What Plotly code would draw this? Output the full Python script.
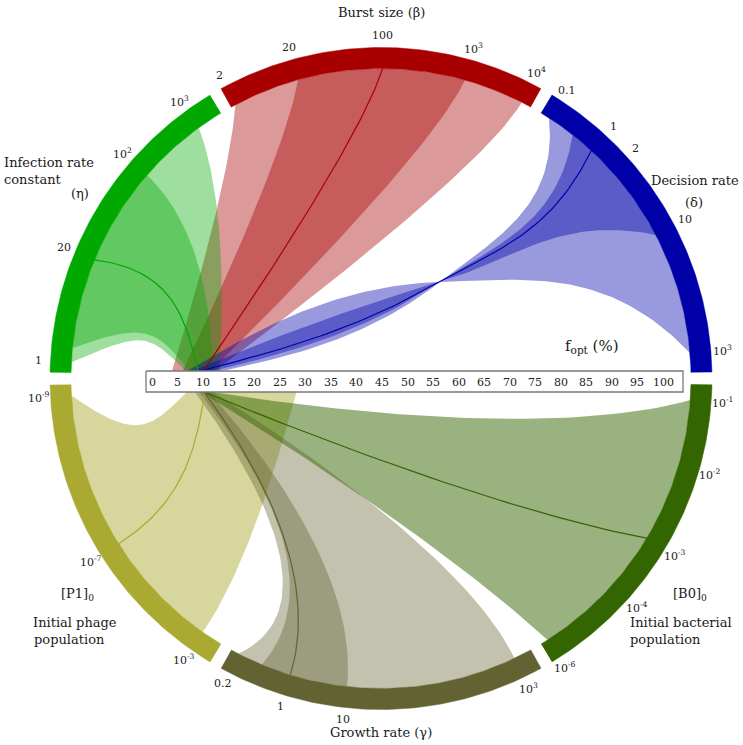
import numpy as np
import plotly.graph_objects as go

# -----------------------------
# Data
# -----------------------------
F_TICKS = list(range(0, 101, 5))          # f_opt axis, %

# Infection rate constant (eta)
ETA_TICKS = [1, 20, 100, 1000]
ETA_TICK_TEXT = ["1", "20", "10<sup>2</sup>", "10<sup>3</sup>"]
ETA_RANGES = [(1, 1000), (1.5, 100)]      # light band, dark band
ETA_F_RANGES = [(6.6, 13.3), (7.4, 12.1)]
ETA_OPT, ETA_OPT_F = 20, 9.0

# Burst size (beta)
BETA_TICKS = [2, 20, 100, 1000, 10000]
BETA_TICK_TEXT = ["2", "20", "100", "10<sup>3</sup>", "10<sup>4</sup>"]
BETA_RANGES = [(2, 10000), (20, 1000)]
BETA_F_RANGES = [(3.9, 12.3), (6.0, 11.5)]
BETA_OPT, BETA_OPT_F = 100, 10.0

# Decision rate (delta)
DELTA_TICKS = [0.1, 1, 2, 10, 1000]
DELTA_TICK_TEXT = ["0.1", "1", "2", "10", "10<sup>3</sup>"]
DELTA_RANGES = [(0.1, 1000), (0.35, 10)]
DELTA_F_RANGES = [(13.7, 6.85), (11.9, 7.8)]
DELTA_OPT, DELTA_OPT_F = 1, 9.4

# Initial bacterial population [B0]0
B0_TICKS = [1e-1, 1e-2, 1e-3, 1e-4, 1e-6]
B0_TICK_TEXT = ["10<sup>-1</sup>", "10<sup>-2</sup>", "10<sup>-3</sup>",
                "10<sup>-4</sup>", "10<sup>-6</sup>"]
B0_RANGES = [(1e-6, 1e-1)]
B0_F_RANGES = [(9.6, 11.8)]
B0_OPT, B0_OPT_F = 1e-3, 10.2

# Growth rate (gamma)
GAMMA_TICKS = [0.2, 1, 10, 1000]
GAMMA_TICK_TEXT = ["0.2", "1", "10", "10<sup>3</sup>"]
GAMMA_RANGES = [(0.2, 1000), (0.42, 10)]
GAMMA_F_RANGES = [(8.4, 11.9), (9.2, 11.2)]
GAMMA_OPT, GAMMA_OPT_F = 1, 10.2

# Initial phage population [P1]0
P1_TICKS = [1e-9, 1e-7, 1e-3]
P1_TICK_TEXT = ["10<sup>-9</sup>", "10<sup>-7</sup>", "10<sup>-3</sup>"]
P1_RANGES = [(1e-9, 1e-3)]
P1_F_RANGES = [(6.85, 28.3)]
P1_OPT, P1_OPT_F = 1e-7, 10.4

# -----------------------------
# Ring scales (degrees on the ring for each tick)
# -----------------------------
ETA_SCALE = [177, 157.5, 139, 126]
BETA_SCALE = [118, 105.5, 89.7, 74.3, 63]
DELTA_SCALE = [57.2, 47.3, 42, 27.6, 4.7]
B0_SCALE = [-4, -16.3, -31, -41.8, -57.5]
GAMMA_SCALE = [242.6, 253, 263.7, 295.5]
P1_SCALE = [183.2, 212.2, 234.9]

# -----------------------------
# Geometry / style
# -----------------------------
W, H = 743, 745
CX, CY = 381, 378.5
R_IN, R_OUT, R_LAB = 310, 331, 343
HALF = 28.9
BOX_X0, BOX_X1, BOX_TOP, BOX_BOT = 146, 683, 371, 392
F0_PX, F_PX = 152, 5.11          # f_opt axis: pixel of 0 %, pixels per %
FONT = "DejaVu Serif"

GROUPS = [
    dict(center=90, color="#a80000", fill="rgba(168,0,0,0.40)",
         ticks=BETA_TICKS, text=BETA_TICK_TEXT, scale=BETA_SCALE,
         ranges=BETA_RANGES, franges=BETA_F_RANGES, opt=BETA_OPT, opt_f=BETA_OPT_F,
         y=BOX_TOP, hub=(237.4, 1.16), mix=1.0, A=80, B=53),
    dict(center=150, color="#00a800", fill="rgba(0,168,0,0.38)",
         ticks=ETA_TICKS, text=ETA_TICK_TEXT, scale=ETA_SCALE,
         ranges=ETA_RANGES, franges=ETA_F_RANGES, opt=ETA_OPT, opt_f=ETA_OPT_F,
         y=BOX_TOP, hub=(141.8, 0.51), mix=1.0, A=80, B=53),
    dict(center=30, color="#0000a8", fill="rgba(0,0,170,0.40)",
         ticks=DELTA_TICKS, text=DELTA_TICK_TEXT, scale=DELTA_SCALE,
         ranges=DELTA_RANGES, franges=DELTA_F_RANGES, opt=DELTA_OPT, opt_f=DELTA_OPT_F,
         y=BOX_TOP, hub=(42.4, 0.78), mix=1.0, A=80, B=53, pinch=(58.6, 0.365)),
    dict(center=210, color="#aaaa33", fill="rgba(170,170,51,0.48)",
         ticks=P1_TICKS, text=P1_TICK_TEXT, scale=P1_SCALE,
         ranges=P1_RANGES, franges=P1_F_RANGES, opt=P1_OPT, opt_f=P1_OPT_F,
         y=BOX_BOT, hub=None, mix=0.0, A=80, B=53, flare=(4.3, 18)),
    dict(center=270, color="#626233", fill="rgba(98,98,50,0.39)",
         ticks=GAMMA_TICKS, text=GAMMA_TICK_TEXT, scale=GAMMA_SCALE,
         ranges=GAMMA_RANGES, franges=GAMMA_F_RANGES, opt=GAMMA_OPT, opt_f=GAMMA_OPT_F,
         y=BOX_BOT, hub=None, mix=0.0, A=120, B=53, flare=(4.0, 18)),
    dict(center=-30, color="#336600", fill="rgba(51,102,0,0.50)",
         ticks=B0_TICKS, text=B0_TICK_TEXT, scale=B0_SCALE,
         ranges=B0_RANGES, franges=B0_F_RANGES, opt=B0_OPT, opt_f=B0_OPT_F,
         y=BOX_BOT, hub=(-84.9, 0.49), mix=0.7, A=160, B=53),
]


# -----------------------------
# Helpers
# -----------------------------
def ring_pt(r, th):
    a = np.radians(th)
    return np.array([CX + r * np.cos(a), CY - r * np.sin(a)])


def unit(v):
    return v / np.linalg.norm(v)


def rotate(v, deg):
    # rotation in the math sense (y up) for a vector in screen coords (y down)
    a = np.radians(deg)
    return np.array([v[0] * np.cos(a) + v[1] * np.sin(a),
                     -v[0] * np.sin(a) + v[1] * np.cos(a)])


def fx(f):
    return F0_PX + F_PX * f


def to_angle(v, g):
    lt = np.log10(g["ticks"])
    order = np.argsort(lt)
    return float(np.interp(np.log10(v), lt[order], np.array(g["scale"])[order]))


def cubic(p0, p1, p2, p3, n=60):
    t = np.linspace(0, 1, n)[:, None]
    return ((1 - t) ** 3 * p0 + 3 * (1 - t) ** 2 * t * p1
            + 3 * (1 - t) * t ** 2 * p2 + t ** 3 * p3)


def edge(g, th, f):
    p0 = ring_pt(R_IN, th)
    p3 = np.array([fx(f), g["y"]])
    u0 = unit(np.array([CX, CY]) - p0)
    if g["hub"] is not None:
        hub = ring_pt(g["hub"][1] * R_IN, g["hub"][0])
        u0 = unit((1 - g["mix"]) * u0 + g["mix"] * unit(hub - p0))
    if "flare" in g:
        k, d0 = g["flare"]
        d = g["center"] - th
        if d > d0:
            u0 = rotate(u0, -k * (d - d0))
    if "pinch" in g:
        h = ring_pt(g["pinch"][1] * R_IN, g["pinch"][0])
        tan = unit(p3 - p0)
        l1 = np.linalg.norm(h - p0)
        l2 = np.linalg.norm(p3 - h)
        s1 = cubic(p0, p0 + 0.45 * l1 * u0, h - 0.35 * l1 * tan, h)
        q1 = h + 0.4 * l2 * tan
        s2 = cubic(h, q1, p3 + 0.3 * l2 * unit(q1 - p3), p3)
        return np.vstack([s1, s2[1:]])
    p1 = p0 + g["A"] * u0
    p2 = p3 + g["B"] * unit(p1 - p3)
    return cubic(p0, p1, p2, p3)


def arc_pts(r, th0, th1, n=80):
    ths = np.linspace(th0, th1, n)
    return np.array([ring_pt(r, t) for t in ths])


# -----------------------------
# Figure
# -----------------------------
fig = go.Figure()

# bands
for g in GROUPS:
    for (v0, v1), (f0, f1) in zip(g["ranges"], g["franges"]):
        a0, a1 = to_angle(v0, g), to_angle(v1, g)
        e0 = edge(g, a0, f0)
        e1 = edge(g, a1, f1)
        poly = np.vstack([e0, e1[::-1], arc_pts(R_IN, a1, a0)])
        fig.add_trace(go.Scatter(x=poly[:, 0], y=poly[:, 1], mode="lines",
                                 fill="toself", fillcolor=g["fill"],
                                 line=dict(width=0, color=g["fill"]),
                                 hoverinfo="skip"))

# optimum lines
for g in GROUPS:
    e = edge(g, to_angle(g["opt"], g), g["opt_f"])
    fig.add_trace(go.Scatter(x=e[:, 0], y=e[:, 1], mode="lines",
                             line=dict(width=1.2, color=g["color"]),
                             hoverinfo="skip"))

# ring segments
for g in GROUPS:
    c = g["center"]
    ring = np.vstack([arc_pts(R_OUT, c - HALF, c + HALF), arc_pts(R_IN, c + HALF, c - HALF)])
    fig.add_trace(go.Scatter(x=ring[:, 0], y=ring[:, 1], mode="lines",
                             fill="toself", fillcolor=g["color"],
                             line=dict(width=0.5, color=g["color"]),
                             hoverinfo="skip"))

# f_opt box
fig.add_trace(go.Scatter(x=[BOX_X0, BOX_X1, BOX_X1, BOX_X0, BOX_X0],
                         y=[BOX_TOP, BOX_TOP, BOX_BOT, BOX_BOT, BOX_TOP],
                         mode="lines", fill="toself", fillcolor="white",
                         line=dict(width=1.3, color="#7a7a7a"), hoverinfo="skip"))

# ring tick labels
for g in GROUPS:
    for v, txt in zip(g["ticks"], g["text"]):
        x, y = ring_pt(R_LAB, to_angle(v, g))
        fig.add_annotation(x=x, y=y, text=txt, showarrow=False,
                           xanchor="center", yanchor="middle",
                           font=dict(family=FONT, size=11, color="#222222"))

# f_opt tick labels (placed on the f_opt axis)
for v in F_TICKS:
    fig.add_annotation(x=v, xref="x2", y=(BOX_TOP + BOX_BOT) / 2 + 0.5, yref="y",
                       text=str(v), showarrow=False, xanchor="center", yanchor="middle",
                       font=dict(family=FONT, size=11, color="#222222"))

# titles
labels = [
    ("Burst size (β)", 381, 12),
    ("Growth rate (γ)", 381, 732),
    ("Infection rate", 49, 162),
    ("constant", 32, 179),
    ("(η)", 80, 193),
    ("Decision rate", 695, 180),
    ("(δ)", 694, 202),
    ("f<sub>opt</sub> (%)", 592, 346),
    ("[P1]<sub>0</sub>", 77, 594),
    ("Initial phage", 75, 622),
    ("population", 69, 639),
    ("[B0]<sub>0</sub>", 690, 594),
    ("Initial bacterial", 681, 622),
    ("population", 665, 639),
]
for txt, x, y in labels:
    fig.add_annotation(x=x, y=y, text=txt, showarrow=False, xanchor="center",
                       yanchor="middle",
                       font=dict(family=FONT, size=15 if "opt" in txt else 13,
                                 color="#1a1a1a"))

fig.update_layout(
    width=W, height=H, margin=dict(l=0, r=0, t=0, b=0),
    paper_bgcolor="white", plot_bgcolor="white", showlegend=False,
    xaxis=dict(range=[0, W], visible=False, fixedrange=True),
    xaxis2=dict(range=[-F0_PX / F_PX, (W - F0_PX) / F_PX], overlaying="x",
                visible=False, fixedrange=True),
    yaxis=dict(range=[H, 0], visible=False, fixedrange=True),
)

fig.write_html("out.html", config={"displayModeBar": False},
               post_script="document.body.style.margin='0';"
                           "document.body.style.overflow='hidden';")
